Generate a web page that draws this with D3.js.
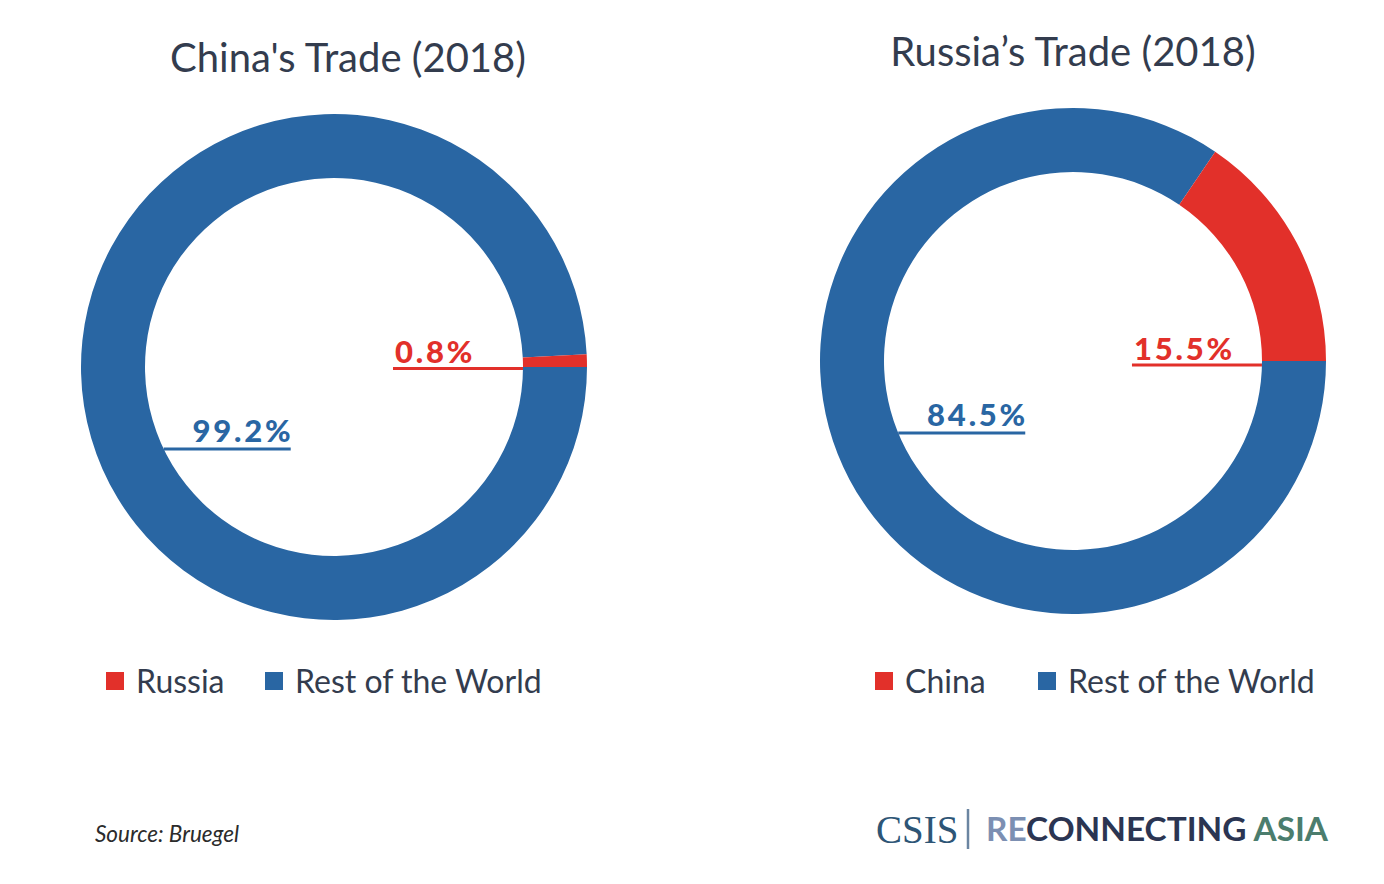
<!DOCTYPE html>
<html><head><meta charset="utf-8">
<script src="https://cdn.jsdelivr.net/npm/d3@7"></script>
<style>
html,body{margin:0;padding:0;background:#fff;}
svg text{font-family:"Source Sans Pro",Lato,"Noto Sans",sans-serif;}
</style></head>
<body><svg id="chart" width="1384" height="884"></svg>
<script>
// ---- data ----
const chartTitles = ["China's Trade (2018)", "Russia\u2019s Trade (2018)"];
const chinaCategories = ["Rest of the World", "Russia"];
const chinaValues = [99.2, 0.8];
const russiaCategories = ["Rest of the World", "China"];
const russiaValues = [84.5, 15.5];
const legendOrderChina = ["Russia", "Rest of the World"];
const legendOrderRussia = ["China", "Rest of the World"];
const sourceText = "Source: Bruegel";

const BLUE = "#2966a3", RED = "#e2302a", TEXT = "#333c4e";
const svg = d3.select("#chart");

const panels = [
  {title: chartTitles[0], titleX: 348, titleY: 72, cx: 334, cy: 367,
   cats: chinaCategories, vals: chinaValues, legend: legendOrderChina,
   legendX: [106, 265],
   labels: [{i:1, dy: 1.5, side:"right", gap: 6}, {i:0, dy: 82, side:"left", gap: 7}]},
  {title: chartTitles[1], titleX: 1073, titleY: 66, cx: 1073, cy: 361,
   cats: russiaCategories, vals: russiaValues, legend: legendOrderRussia,
   legendX: [875, 1038],
   labels: [{i:1, dy: 4, side:"right", gap: 5}, {i:0, dy: 72, side:"left", gap: 7}]}
];

const outerR = 253, innerR = 189;
const arc = d3.arc().innerRadius(innerR).outerRadius(outerR);
const pie = d3.pie().sort(null).value(d => d).startAngle(Math.PI/2).endAngle(Math.PI/2 + 2*Math.PI);

panels.forEach(p => {
  const color = d3.scaleOrdinal().domain(["Rest of the World", p.cats[1]]).range([BLUE, RED]);
  svg.append("text").attr("x", p.titleX).attr("y", p.titleY)
    .attr("text-anchor", "middle").attr("font-size", 40).attr("fill", TEXT)
    .text(p.title);

  const g = svg.append("g").attr("transform", `translate(${p.cx},${p.cy})`);
  const arcs = pie(p.vals);
  g.selectAll("path").data(arcs).join("path")
    .attr("d", arc).attr("fill", (d,i) => color(p.cats[i]));

  p.labels.forEach(l => {
    const c = color(p.cats[l.i]);
    const dx = Math.sqrt(innerR*innerR - l.dy*l.dy);
    const lineY = l.dy;
    let x1, x2;
    if (l.side === "right") { x2 = dx; x1 = dx - 130; }
    else { x1 = -dx; x2 = -dx + 127; }
    g.append("line").attr("x1", x1).attr("x2", x2).attr("y1", lineY).attr("y2", lineY)
      .attr("stroke", c).attr("stroke-width", 3);
    const ls = 2.8;
    const t = g.append("text").attr("y", lineY - l.gap)
      .attr("font-size", 31).attr("font-weight", 900).attr("fill", c)
      .attr("letter-spacing", ls)
      .text(d3.format(".1f")(p.vals[l.i]) + "%");
    const w = t.node().getComputedTextLength() - ls;
    if (l.side === "right") t.attr("x", x1 + 2);
    else t.attr("x", x2 - w);
  });

  p.legend.forEach((name, k) => {
    const x = p.legendX[k];
    svg.append("rect").attr("x", x).attr("y", 672).attr("width", 18).attr("height", 18)
      .attr("fill", color(name));
    svg.append("text").attr("x", x + 30).attr("y", 693).attr("font-size", 32)
      .attr("fill", TEXT).text(name);
  });
});

svg.append("text").attr("x", 95).attr("y", 842).attr("font-size", 22.5)
  .attr("font-style", "italic").attr("fill", "#2b2b2b").text(sourceText);

// logo
const logo = svg.append("g");
logo.append("text").attr("x", 876).attr("y", 843).attr("font-size", 39)
  .attr("fill", "#2d5576")
  .style("font-family", "'Liberation Serif', serif").text("CSIS");
logo.append("line").attr("x1", 968).attr("x2", 968).attr("y1", 809).attr("y2", 849)
  .attr("stroke", "#6b85a1").attr("stroke-width", 2.5);
const lt = logo.append("text").attr("x", 986).attr("y", 841).attr("font-size", 32)
  .attr("font-weight", 700).attr("textLength", 342).attr("lengthAdjust", "spacingAndGlyphs");
lt.append("tspan").attr("fill", "#7c8fb2").text("RE");
lt.append("tspan").attr("fill", "#2b3552").text("CONNECTING ");
lt.append("tspan").attr("fill", "#4b7d6d").text("ASIA");
</script></body></html>
